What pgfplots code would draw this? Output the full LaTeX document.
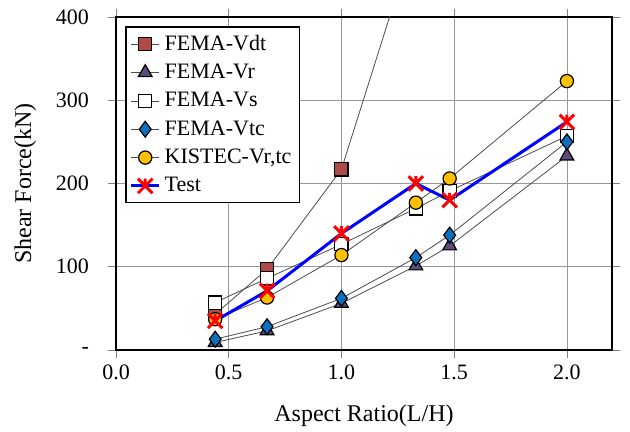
\documentclass[border=0pt]{standalone}
\usepackage{fontspec}
\setmainfont{Liberation Serif}
\usepackage{pgfplots}
\pgfplotsset{compat=1.18}

\definecolor{cdt}{HTML}{B04A48}
\definecolor{cvr}{HTML}{604A7B}
\definecolor{cvtc}{HTML}{0F6FBF}
\definecolor{ckis}{HTML}{FFC000}

% Excel-like star marker: an x with a vertical spoke
\pgfdeclareplotmark{xstar}{%
  \pgfpathmoveto{\pgfqpoint{-\pgfplotmarksize}{-\pgfplotmarksize}}%
  \pgfpathlineto{\pgfqpoint{\pgfplotmarksize}{\pgfplotmarksize}}%
  \pgfpathmoveto{\pgfqpoint{-\pgfplotmarksize}{\pgfplotmarksize}}%
  \pgfpathlineto{\pgfqpoint{\pgfplotmarksize}{-\pgfplotmarksize}}%
  \pgfpathmoveto{\pgfqpoint{0pt}{0pt}}%
  \pgfpathlineto{\pgfqpoint{0pt}{\pgfplotmarksize}}%
  \pgfusepathqstroke}

\begin{document}
\begin{tikzpicture}
\begin{axis}[
    scale only axis,
    width=248pt, height=166.5pt,
    xmin=0, xmax=2.2, ymin=0, ymax=400,
    xtick={0,0.5,1,1.5,2},
    ytick={0,100,200,300,400},
    yticklabels={-,100,200,300,400},
    xticklabel style={/pgf/number format/fixed,/pgf/number format/fixed zerofill,/pgf/number format/precision=1},
    /pgf/number format/assume math mode=true,
    tick align=outside,
    major tick length=4pt,
    tick style={gray, thin},
    grid=major,
    major grid style={gray!80, thin},
    axis line style={black, semithick},
    font=\fontsize{11}{13}\selectfont,
    yticklabel shift=6pt,
    ylabel shift=3pt,
    xlabel shift=5.5pt,
    label style={font=\fontsize{12}{14}\selectfont},
    xlabel={Aspect Ratio(L/H)},
    ylabel={Shear Force(kN)},
    legend style={at={(0.018,0.973)}, anchor=north west,
        draw=black, thick, fill=white, font=\fontsize{11}{13}\selectfont,
        row sep=1.4pt, inner sep=2pt, legend cell align=left},
    legend image code/.code={%
        \draw[mark repeat=2,mark phase=2,#1] plot coordinates {(0pt,0pt)(7pt,0pt)(14pt,0pt)};},
    every axis plot/.append style={mark size=3.3pt},
]
\addplot[black!70, thin, mark=square*, mark options={fill=cdt, draw=black, semithick}]
  coordinates {(0.44,43) (0.67,97) (1.0,217) (1.33,500) (1.48,560) (2.0,800)};
\addlegendentry{FEMA-Vdt}
\addplot[black!70, thin, mark=triangle*, mark options={fill=cvr, draw=black, semithick, scale=1.2}]
  coordinates {(0.44,9) (0.67,23) (1.0,56) (1.33,101) (1.48,125) (2.0,233)};
\addlegendentry{FEMA-Vr}
\addplot[black!70, thin, mark=square*, mark options={fill=white, draw=black, semithick}]
  coordinates {(0.44,57) (0.67,86) (1.0,127) (1.33,170) (1.48,191) (2.0,257)};
\addlegendentry{FEMA-Vs}
\addplot[black!70, thin, mark=diamond*, mark options={fill=cvtc, draw=black, semithick, scale=1.2}]
  coordinates {(0.44,13) (0.67,28) (1.0,62) (1.33,111) (1.48,138) (2.0,250)};
\addlegendentry{FEMA-Vtc}
\addplot[black!70, thin, mark=*, mark options={fill=ckis, draw=black, semithick}]
  coordinates {(0.44,37) (0.67,63) (1.0,114) (1.33,177) (1.48,206) (2.0,323)};
\addlegendentry{KISTEC-Vr,tc}
\addplot[blue, line width=1.5pt, mark=xstar, mark options={red, line width=1.5pt, scale=1.1}]
  coordinates {(0.44,35) (0.67,71) (1.0,140) (1.33,200) (1.48,180) (2.0,274)};
\addlegendentry{Test}
\end{axis}
\pgfresetboundingbox
\path[use as bounding box] ([xshift=-58pt,yshift=-41pt]current axis.south west) rectangle ([xshift=9pt,yshift=8.5pt]current axis.north east);
\end{tikzpicture}
\end{document}
